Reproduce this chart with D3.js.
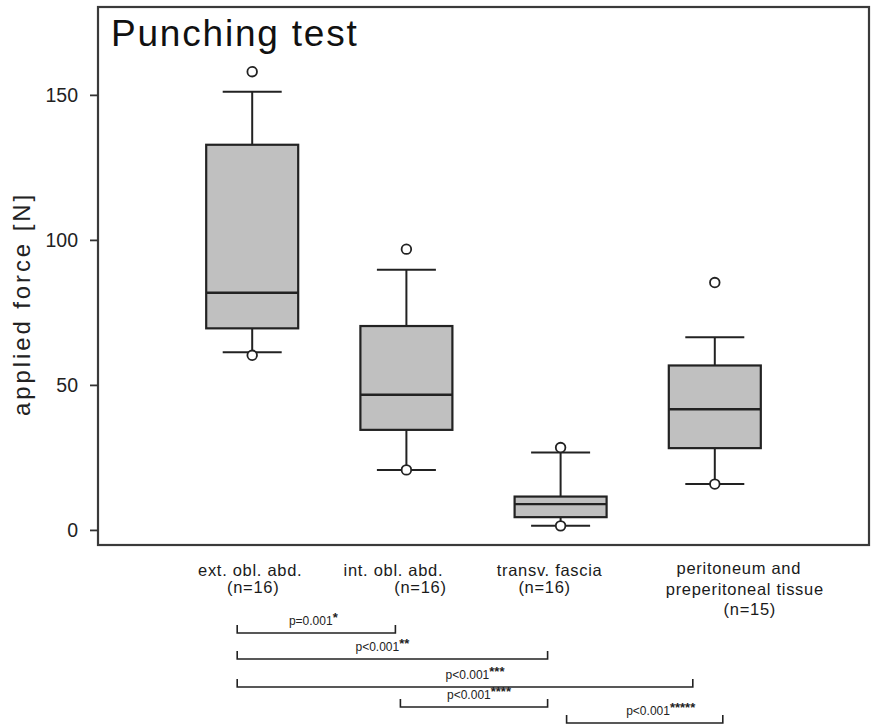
<!DOCTYPE html>
<html>
<head>
<meta charset="utf-8">
<script src="https://cdn.jsdelivr.net/npm/d3@7"></script>
<style>
  html, body { margin: 0; padding: 0; background: #fff; }
  svg { display: block; font-family: "Liberation Sans", Arial, sans-serif; }
</style>
</head>
<body>
<svg id="chart" width="872" height="728"></svg>
<script>
// ---- Data ----
const categories = ["ext", "int", "transv", "perit"];
const labelLines = [
  ["ext. obl. abd.", "(n=16)"],
  ["int. obl. abd.", "(n=16)"],
  ["transv. fascia", "(n=16)"],
  ["peritoneum and", "preperitoneal tissue", "(n=15)"]
];
const whiskerLow  = [61.3, 20.7, 1.4, 15.8];
const q1          = [69.5, 34.5, 4.4, 28.2];
const medians     = [81.8, 46.6, 8.9, 41.6];
const q3          = [132.8, 70.3, 11.5, 56.7];
const whiskerHigh = [151.1, 89.7, 26.7, 66.4];
const outliers    = [[158, 60.2], [96.8, 20.7], [28.4, 1.4], [85.3, 15.8]];
const yTicks = [0, 50, 100, 150];
const compFrom  = ["ext", "ext", "ext", "int", "transv"];
const compTo    = ["int", "transv", "perit", "transv", "perit"];
const compText  = ["p=0.001", "p<0.001", "p<0.001", "p<0.001", "p<0.001"];
const compStars = ["*", "**", "***", "****", "*****"];

// ---- Layout (style only) ----
const L = 98, R = 869, T = 7, B = 545;
const labelDx = [[-2, 1], [-13, 14], [-11, -16], [24, 30, 35]];
const labelY0 = [571, 571, 571, 569];
const labelLH = [17, 17, 17, 20.5];
const bracketY = [633, 659, 687, 707, 723];
const bracketDx = [[-15, -11], [-15, -13], [-15, -22], [-6, -13], [6, 8]];
const textDx = [-3, -10, 10, 5, 16];

const svg = d3.select("#chart");

const x = d3.scalePoint().domain(categories).range([L, R]).padding(1);
const y = d3.scaleLinear().domain([-5.2, 180.3]).range([B, T]);
const boxW = 92, capW = 59;

// frame
svg.append("rect")
  .attr("x", L).attr("y", T).attr("width", R - L).attr("height", B - T)
  .attr("fill", "none").attr("stroke", "#3a3a3a").attr("stroke-width", 2.2);

// y axis
const yAxis = d3.axisLeft(y).tickValues(yTicks).tickSize(8).tickPadding(12).tickFormat(d3.format("d"));
const gy = svg.append("g").attr("transform", `translate(${L},0)`).call(yAxis);
gy.select(".domain").remove();
gy.selectAll(".tick line").attr("stroke", "#333").attr("stroke-width", 1.8);
gy.selectAll(".tick text").attr("font-size", 19.5).attr("fill", "#222")
  .attr("font-family", "Liberation Sans, Arial, sans-serif");

// y label
svg.append("text")
  .attr("transform", `translate(30,${(188 + 420) / 2}) rotate(-90)`)
  .attr("text-anchor", "middle")
  .attr("font-size", 24).attr("letter-spacing", 2.9).attr("fill", "#222")
  .text("applied force [N]");

// title
svg.append("text")
  .attr("x", 111).attr("y", 46)
  .attr("font-size", 37).attr("letter-spacing", 1.8).attr("fill", "#111")
  .text("Punching test");

// boxes
const g = svg.append("g");
categories.forEach((c, i) => {
  const cx = x(c);
  g.append("line").attr("x1", cx).attr("x2", cx)
    .attr("y1", y(q3[i])).attr("y2", y(whiskerHigh[i]))
    .attr("stroke", "#222").attr("stroke-width", 2);
  g.append("line").attr("x1", cx).attr("x2", cx)
    .attr("y1", y(q1[i])).attr("y2", y(whiskerLow[i]))
    .attr("stroke", "#222").attr("stroke-width", 2);
  [whiskerHigh[i], whiskerLow[i]].forEach(v => {
    g.append("line").attr("x1", cx - capW / 2).attr("x2", cx + capW / 2)
      .attr("y1", y(v)).attr("y2", y(v))
      .attr("stroke", "#222").attr("stroke-width", 2);
  });
  g.append("rect")
    .attr("x", cx - boxW / 2).attr("width", boxW)
    .attr("y", y(q3[i])).attr("height", y(q1[i]) - y(q3[i]))
    .attr("fill", "#c0c0c0").attr("stroke", "#222").attr("stroke-width", 2.2);
  g.append("line").attr("x1", cx - boxW / 2).attr("x2", cx + boxW / 2)
    .attr("y1", y(medians[i])).attr("y2", y(medians[i]))
    .attr("stroke", "#222").attr("stroke-width", 2.4);
  outliers[i].forEach(v => {
    g.append("circle").attr("cx", cx).attr("cy", y(v)).attr("r", 4.8)
      .attr("fill", "#fff").attr("stroke", "#222").attr("stroke-width", 1.8);
  });
});

// x labels
categories.forEach((c, i) => {
  labelLines[i].forEach((t, j) => {
    svg.append("text")
      .attr("x", x(c) + labelDx[i][j])
      .attr("y", labelY0[i] + j * labelLH[i] + 5)
      .attr("text-anchor", "middle")
      .attr("font-size", 16.5).attr("letter-spacing", 0.7).attr("fill", "#1a1a1a")
      .text(t);
  });
});

// comparison brackets
compFrom.forEach((f, i) => {
  const x1 = x(f) + bracketDx[i][0];
  const x2 = x(compTo[i]) + bracketDx[i][1];
  const yy = bracketY[i];
  svg.append("path")
    .attr("d", `M${x1},${yy - 8}V${yy}H${x2}V${yy - 8}`)
    .attr("fill", "none").attr("stroke", "#222").attr("stroke-width", 1.6);
  const t = svg.append("text")
    .attr("x", (x1 + x2) / 2 + textDx[i]).attr("y", yy - 8)
    .attr("text-anchor", "middle")
    .attr("font-size", 12).attr("fill", "#222");
  t.append("tspan").text(compText[i]);
  t.append("tspan").attr("dy", -3).attr("font-size", 13).attr("font-weight", "bold").text(compStars[i]);
});
</script>
</body>
</html>
